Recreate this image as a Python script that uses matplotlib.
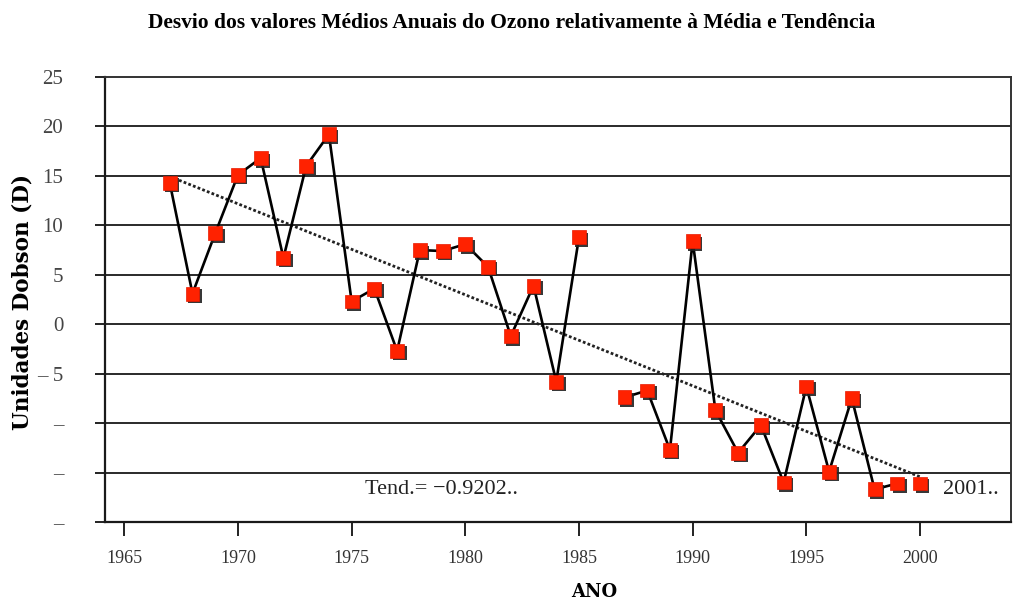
import numpy as np
import matplotlib
matplotlib.use('Agg')
import matplotlib.pyplot as plt
import matplotlib.patheffects as pe

# annual ozone deviation (Dobson units), 1986 missing
years = [1967, 1968, 1969, 1970, 1971, 1972, 1973, 1974, 1975, 1976, 1977,
         1978, 1979, 1980, 1981, 1982, 1983, 1984, 1985, 1987, 1988, 1989,
         1990, 1991, 1992, 1993, 1994, 1995, 1996, 1997, 1998, 1999, 2000]
desvio = [14.3, 3.1, 9.2, 15.1, 16.8, 6.7, 16.0, 19.2, 2.3, 3.6, -2.7,
          7.5, 7.4, 8.1, 5.8, -1.2, 3.9, -5.8, 8.8, -7.4, -6.7, -12.7,
          8.4, -8.7, -13.0, -10.2, -16.0, -6.3, -14.9, -7.5, -16.7, -16.1, -16.1]
tend_slope = -0.9202

y_ticks = [-20, -15, -10, -5, 0, 5, 10, 15, 20, 25]
y_labels = ['–', '–', '–', '– 5', '0', '5', '10', '15', '20', '25']
x_ticks = [1965, 1970, 1975, 1980, 1985, 1990, 1995, 2000]

serif = 'DejaVu Serif'
times = 'Liberation Serif'

fig = plt.figure(figsize=(10.18, 6.01), dpi=100)
ax = fig.add_axes([0.1031, 0.1314, 0.8900, 0.7405])

ax.set_xlim(1964.15, 2004.0)
ax.set_ylim(-20, 25)

for v in y_ticks[1:-1]:
    ax.axhline(v, color='#2a2a2a', lw=1.4, zorder=1)

# line with breaks: gap at 1986 and last point not joined
yrs = np.array(years, dtype=float)
vals = np.array(desvio, dtype=float)
ly = list(yrs[:19]) + [np.nan] + list(yrs[19:-1])
lv = list(vals[:19]) + [np.nan] + list(vals[19:-1])
ax.plot(ly, lv, color='black', lw=1.9, zorder=3)

# linear trend
x0 = yrs.mean()
y0 = vals.mean()
tx = np.array([years[0], years[-1]], dtype=float)
ty = y0 + tend_slope * (tx - x0)
ax.plot(tx, ty, color='#222222', lw=2.0, ls=(0, (1, 0.8)), zorder=2)

ax.plot(yrs, vals, ls='none', marker='s', ms=10, mfc='#ff2200', mec='#e81a00',
        mew=0.5, zorder=4,
        path_effects=[pe.SimplePatchShadow(offset=(1.8, -1.8), shadow_rgbFace='#222222', alpha=0.9),
                      pe.Normal()])

ax.set_yticks(y_ticks)
ax.set_yticklabels(y_labels, fontfamily=times, fontsize=15, color='#444444')
ax.set_xticks(x_ticks)
ax.set_xticklabels([str(x) for x in x_ticks], fontfamily=times, fontsize=13, color='#333333')
ax.tick_params(axis='y', direction='out', length=7, width=1.4, pad=23, color='#222222')
ax.tick_params(axis='x', direction='out', length=10, width=1.4, pad=10, color='#222222')

for s in ['left', 'bottom']:
    ax.spines[s].set_linewidth(1.6)
    ax.spines[s].set_color('#1a1a1a')
for s in ['top', 'right']:
    ax.spines[s].set_linewidth(1.4)
    ax.spines[s].set_color('#333333')

fig.text(0.022, 0.497, 'Unidades Dobson (D)', fontfamily=serif, fontweight='bold',
         fontsize=15.5, rotation=90, ha='center', va='center')
fig.text(0.5835, 0.0, 'ANO', fontfamily=serif, fontweight='bold', fontsize=13,
         ha='center', va='bottom')
fig.text(0.5025, 0.962, 'Desvio dos valores Médios Anuais do Ozono relativamente à Média e Tendência',
         fontfamily=times, fontweight='bold', fontsize=15.5, ha='center', va='center')

ax.text(1975.6, -16.7, 'Tend.= −0.9202..', fontfamily=times, fontsize=16, color='#222222',
        va='center')
ax.text(2001.0, -16.7, '2001..', fontfamily=times, fontsize=16, color='#222222', va='center')

fig.savefig('out.png', dpi=100, facecolor='white')
